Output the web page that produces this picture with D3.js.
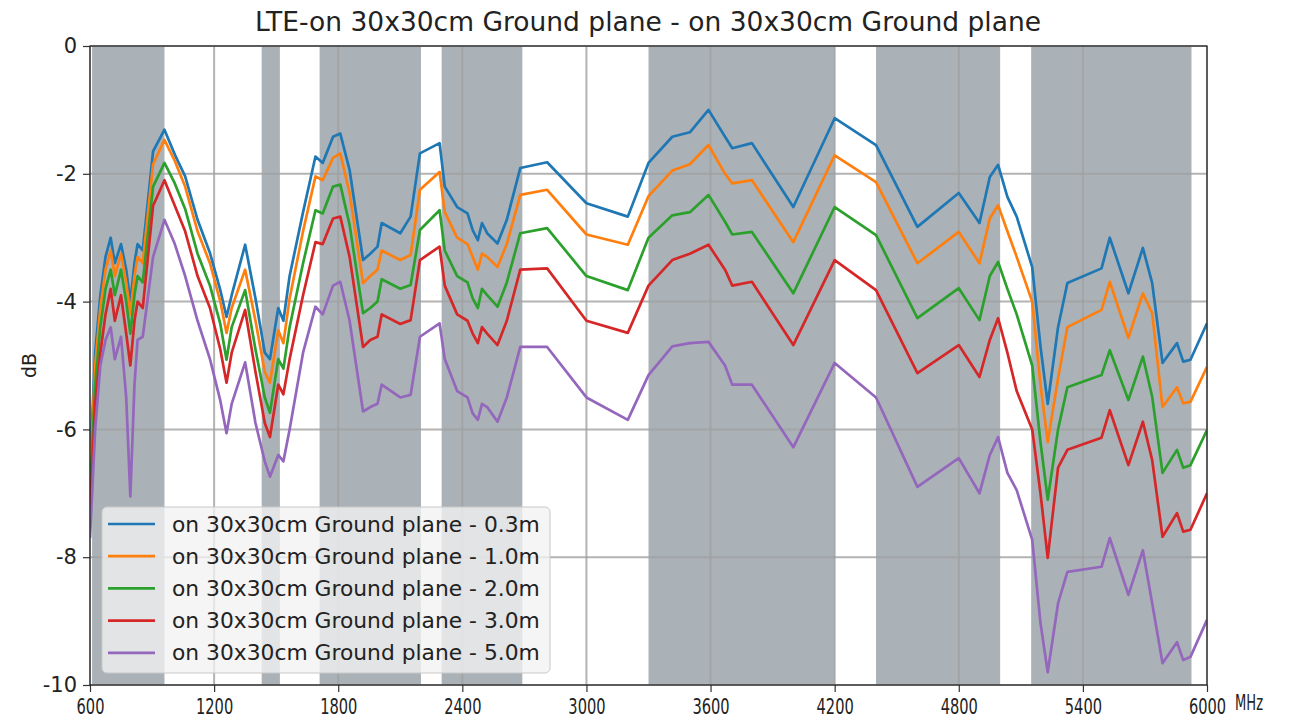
<!DOCTYPE html>
<html><head><meta charset="utf-8">
<script src="https://cdn.jsdelivr.net/npm/d3@7/dist/d3.min.js"></script>
<style>body{margin:0;background:#fff}</style>
</head><body>
<svg id="c" width="1305" height="722"></svg>
<script>
const title = "LTE-on 30x30cm Ground plane - on 30x30cm Ground plane";
const seriesNames = ["on 30x30cm Ground plane - 0.3m","on 30x30cm Ground plane - 1.0m","on 30x30cm Ground plane - 2.0m","on 30x30cm Ground plane - 3.0m","on 30x30cm Ground plane - 5.0m"];
const colors = ["#1f77b4","#ff7f0e","#2ca02c","#d62728","#9467bd"];
const xTicks = [600,1200,1800,2400,3000,3600,4200,4800,5400,6000];
const yTicks = [0,-2,-4,-6,-8,-10];
const bands = [[610,960],[1430,1518],[1710,2200],[2300,2690],[3300,4200],[4400,5000],[5150,5925]];
const freqs = [600,625,650,675,700,720,750,775,795,815,830,855,905,960,1010,1060,1120,1180,1230,1260,1285,1350,1400,1445,1470,1510,1535,1565,1630,1690,1725,1775,1810,1855,1920,1955,1990,2010,2100,2150,2195,2290,2315,2375,2425,2450,2475,2495,2520,2570,2615,2680,2810,3000,3200,3300,3415,3500,3590,3670,3705,3800,4000,4200,4400,4600,4800,4900,4950,4990,5035,5080,5155,5195,5230,5280,5325,5490,5530,5620,5690,5735,5785,5855,5885,5920,6000];
const s03 = [-6.6,-4.8,-3.9,-3.3,-3.0,-3.4,-3.1,-3.5,-4.0,-3.4,-3.1,-3.2,-1.65,-1.31,-1.7,-2.04,-2.72,-3.24,-3.82,-4.24,-3.9,-3.11,-3.95,-4.8,-4.9,-4.1,-4.3,-3.6,-2.6,-1.73,-1.83,-1.42,-1.37,-1.94,-3.35,-3.25,-3.14,-2.77,-2.93,-2.67,-1.68,-1.52,-2.2,-2.52,-2.62,-2.88,-3.04,-2.77,-2.93,-3.09,-2.72,-1.91,-1.82,-2.46,-2.67,-1.83,-1.42,-1.35,-1.0,-1.42,-1.6,-1.52,-2.52,-1.13,-1.55,-2.83,-2.3,-2.77,-2.05,-1.86,-2.36,-2.67,-3.46,-4.7,-5.6,-4.4,-3.71,-3.48,-3.0,-3.87,-3.16,-3.71,-4.96,-4.65,-4.94,-4.91,-4.34];
const s10 = [-6.8,-5.0,-4.1,-3.5,-3.2,-3.6,-3.25,-3.7,-4.2,-3.6,-3.3,-3.4,-1.85,-1.47,-1.8,-2.2,-2.9,-3.4,-4.0,-4.49,-4.1,-3.5,-4.3,-5.1,-5.27,-4.45,-4.65,-3.95,-2.9,-2.04,-2.1,-1.75,-1.68,-2.3,-3.71,-3.6,-3.5,-3.2,-3.35,-3.27,-2.25,-1.97,-2.6,-3.0,-3.1,-3.3,-3.5,-3.25,-3.3,-3.46,-3.1,-2.33,-2.25,-2.95,-3.11,-2.35,-1.95,-1.85,-1.55,-2.0,-2.15,-2.1,-3.07,-1.71,-2.13,-3.4,-2.91,-3.4,-2.7,-2.49,-2.9,-3.3,-4.0,-5.3,-6.2,-5.2,-4.4,-4.13,-3.69,-4.57,-3.87,-4.18,-5.65,-5.34,-5.59,-5.57,-5.02];
const s20 = [-7.0,-5.3,-4.4,-3.8,-3.5,-3.9,-3.5,-4.0,-4.5,-3.9,-3.6,-3.7,-2.2,-1.83,-2.15,-2.55,-3.25,-3.75,-4.35,-4.91,-4.4,-3.82,-4.75,-5.5,-5.74,-4.9,-5.05,-4.4,-3.4,-2.57,-2.62,-2.2,-2.17,-2.8,-4.18,-4.1,-4.0,-3.65,-3.8,-3.74,-2.88,-2.57,-3.2,-3.6,-3.7,-3.95,-4.1,-3.8,-3.9,-4.08,-3.7,-2.93,-2.85,-3.6,-3.82,-3.0,-2.65,-2.6,-2.33,-2.75,-2.95,-2.91,-3.87,-2.52,-2.96,-4.26,-3.79,-4.29,-3.6,-3.38,-3.8,-4.2,-5.0,-6.2,-7.1,-6.0,-5.34,-5.15,-4.76,-5.54,-4.86,-5.49,-6.68,-6.32,-6.6,-6.56,-6.01];
const s30 = [-7.3,-5.6,-4.8,-4.2,-3.8,-4.3,-3.9,-4.5,-5.0,-4.3,-4.0,-4.1,-2.5,-2.1,-2.5,-2.9,-3.6,-4.1,-4.75,-5.27,-4.8,-4.13,-5.1,-5.9,-6.12,-5.3,-5.45,-4.9,-3.9,-3.07,-3.1,-2.7,-2.67,-3.3,-4.71,-4.6,-4.55,-4.2,-4.35,-4.29,-3.35,-3.14,-3.75,-4.2,-4.3,-4.5,-4.65,-4.4,-4.5,-4.68,-4.3,-3.5,-3.48,-4.3,-4.49,-3.75,-3.35,-3.25,-3.11,-3.5,-3.75,-3.69,-4.68,-3.35,-3.82,-5.12,-4.68,-5.18,-4.6,-4.26,-4.8,-5.4,-6.0,-7.0,-8.01,-6.6,-6.32,-6.13,-5.7,-6.56,-5.88,-6.48,-7.68,-7.31,-7.6,-7.57,-7.0];
const s50 = [-7.7,-6.0,-5.0,-4.6,-4.4,-4.9,-4.55,-5.5,-7.05,-5.3,-4.6,-4.55,-3.3,-2.72,-3.1,-3.6,-4.3,-4.9,-5.55,-6.06,-5.6,-4.95,-5.9,-6.5,-6.74,-6.4,-6.5,-6.0,-4.8,-4.08,-4.2,-3.75,-3.69,-4.3,-5.72,-5.65,-5.6,-5.3,-5.5,-5.46,-4.55,-4.34,-4.9,-5.4,-5.5,-5.75,-5.85,-5.6,-5.65,-5.88,-5.5,-4.71,-4.71,-5.5,-5.85,-5.15,-4.7,-4.65,-4.63,-5.0,-5.3,-5.3,-6.28,-4.96,-5.5,-6.9,-6.45,-7.0,-6.4,-6.12,-6.68,-6.95,-7.73,-9.03,-9.8,-8.72,-8.23,-8.15,-7.7,-8.59,-7.89,-8.72,-9.66,-9.33,-9.61,-9.56,-8.98];
const seriesValues = [s03,s10,s20,s30,s50];

const svg = d3.select("#c");
const L=90, R=1207, T=46, B=685;
const x = d3.scaleLinear().domain([600,6000]).range([L,R]);
const y = d3.scaleLinear().domain([-10,0]).range([B,T]);
const font = "DejaVu Sans";

svg.append("text").attr("x",648).attr("y",31).attr("text-anchor","middle")
  .attr("font-family",font).attr("font-size",26.5).attr("fill","#222").text(title);

svg.append("clipPath").attr("id","clip").append("rect").attr("x",L).attr("y",T).attr("width",R-L).attr("height",B-T);
const g = svg.append("g");
g.selectAll("rect.band").data(bands).enter().append("rect")
  .attr("x",d=>x(d[0])).attr("width",d=>x(d[1])-x(d[0]))
  .attr("y",T).attr("height",B-T).attr("fill","#aab2b8");

// grid
g.selectAll("line.vg").data(xTicks).enter().append("line")
  .attr("x1",d=>x(d)).attr("x2",d=>x(d)).attr("y1",T).attr("y2",B)
  .attr("stroke","#a0a0a0").attr("stroke-width",2).attr("stroke-opacity",0.8);
g.selectAll("line.hg").data(yTicks).enter().append("line")
  .attr("y1",d=>y(d)).attr("y2",d=>y(d)).attr("x1",L).attr("x2",R)
  .attr("stroke","#a0a0a0").attr("stroke-width",2).attr("stroke-opacity",0.8);

const line = d3.line().x((d,i)=>x(freqs[i])).y(d=>y(d));
seriesValues.forEach((vals,k)=>{
  g.append("path").datum(vals).attr("d",line).attr("fill","none")
   .attr("stroke",colors[k]).attr("stroke-width",2.7).attr("stroke-linejoin","round")
   .attr("clip-path","url(#clip)");
});

// axes
const xAxis = d3.axisBottom(x).tickValues(xTicks).tickSize(7).tickSizeOuter(0).tickFormat(d=>String(d));
const yAxis = d3.axisLeft(y).tickValues(yTicks).tickSize(7).tickSizeOuter(0).tickFormat(d=>String(d));
const xa = svg.append("g").attr("transform",`translate(0,${B})`).call(xAxis);
const ya = svg.append("g").attr("transform",`translate(${L},0)`).call(yAxis);
[xa,ya].forEach(a=>{
  a.select(".domain").remove();
  a.selectAll("line").attr("stroke","#333").attr("stroke-width",1.2);
  a.selectAll("text").attr("font-family",font).attr("fill","#222");
});
xa.selectAll("text").attr("font-family","DejaVu Sans Condensed").attr("font-size",21).attr("dy","0.9em")
  .attr("textLength",d=>String(d).length*9.3).attr("lengthAdjust","spacingAndGlyphs");
ya.selectAll("text").attr("font-size",21).attr("dx","-3");
svg.append("text").attr("x",1235).attr("y",B+25).attr("font-family","DejaVu Sans Condensed").attr("font-size",21)
  .attr("textLength",28).attr("lengthAdjust","spacingAndGlyphs").attr("fill","#222").text("MHz");
svg.append("rect").attr("x",L).attr("y",T).attr("width",R-L).attr("height",B-T).attr("fill","none").attr("stroke","#222").attr("stroke-width",1.2);

svg.append("text").attr("transform",`translate(36,${(T+B)/2}) rotate(-90)`).attr("text-anchor","middle")
  .attr("font-family",font).attr("font-size",19).attr("fill","#222").text("dB");

// legend
const lg = svg.append("g");
lg.append("rect").attr("x",102).attr("y",507).attr("width",448).attr("height",166).attr("rx",5)
  .attr("fill","#f2f2f2").attr("fill-opacity",0.78).attr("stroke","#c8c8c8");
seriesNames.forEach((n,k)=>{
  const yy = 524 + k*32.2;
  lg.append("line").attr("x1",108).attr("x2",155).attr("y1",yy).attr("y2",yy).attr("stroke",colors[k]).attr("stroke-width",2.7);
  lg.append("text").attr("x",172).attr("y",yy+7.5).attr("font-family",font).attr("font-size",21.8).attr("fill","#222").text(n);
});
</script>
</body></html>
